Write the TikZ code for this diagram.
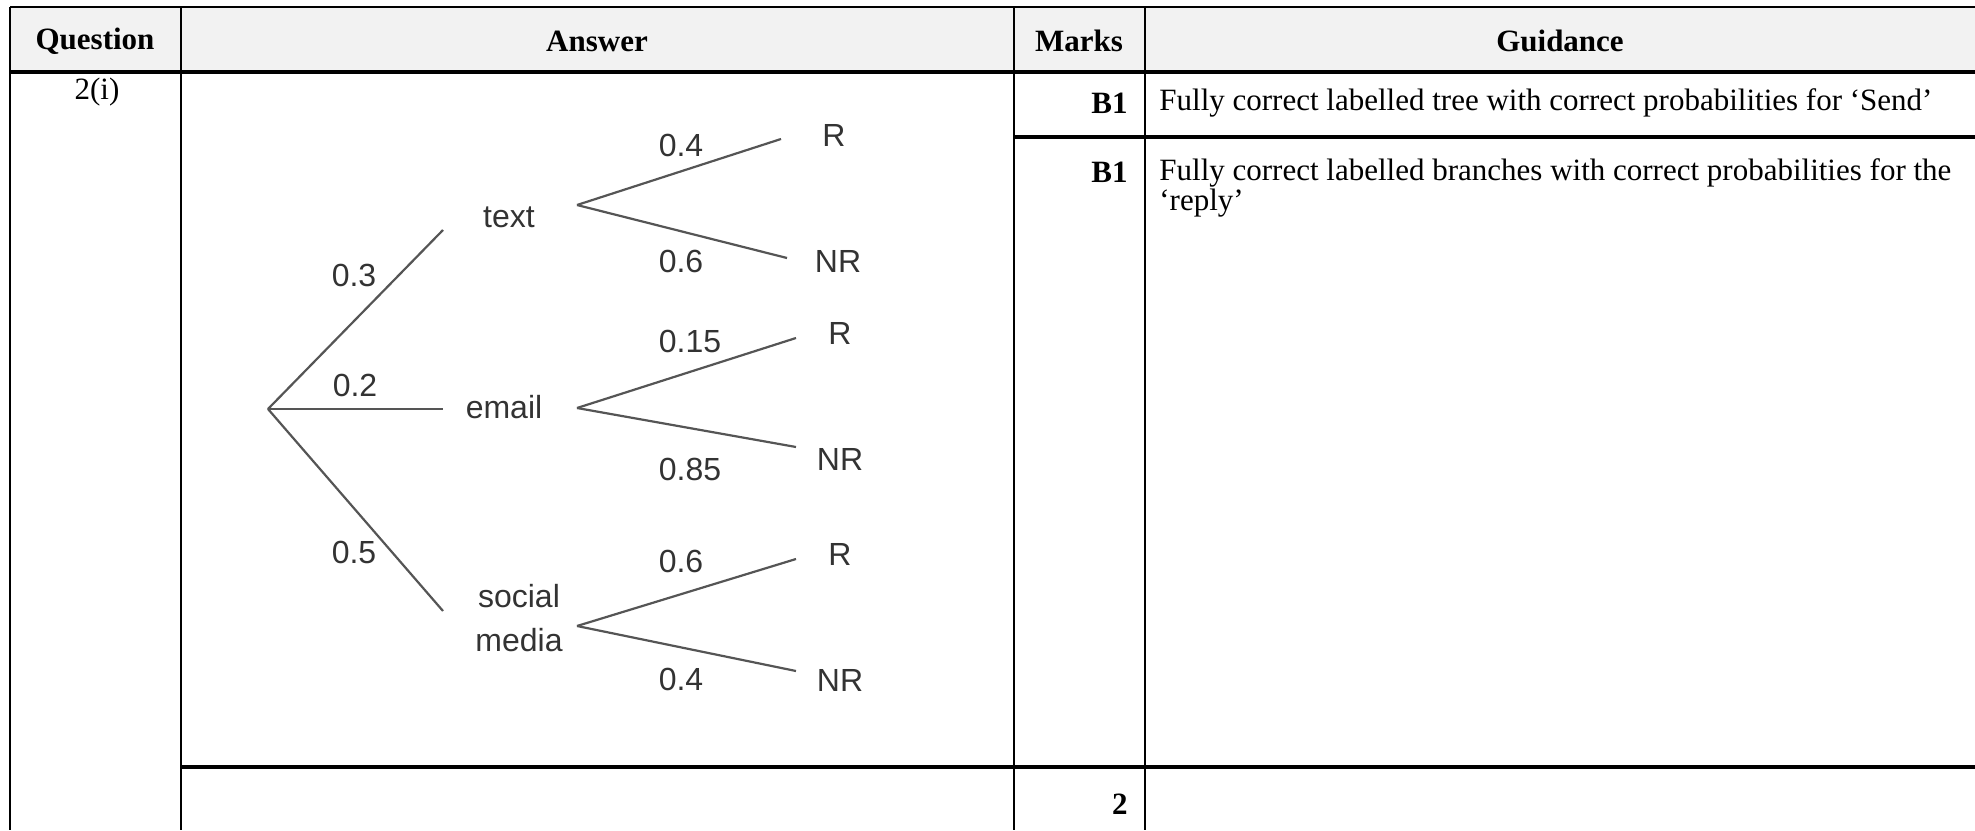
\documentclass[tikz,border=0pt]{standalone}
\usepackage{fontspec}
\setmainfont{Liberation Serif}
\newfontfamily\treefont{Liberation Sans}
\definecolor{headgray}{HTML}{F2F2F2}
\definecolor{treetext}{HTML}{333333}
\definecolor{treeline}{HTML}{555555}
\begin{document}
\begin{tikzpicture}[x=0.5pt,y=-0.5pt,
  tabtext/.style={font=\fontsize{15.5}{18}\selectfont, inner sep=0pt},
  headtext/.style={font=\fontsize{15.5}{18}\selectfont\bfseries, inner sep=0pt},
  treelabel/.style={font=\treefont\fontsize{16}{19}\selectfont, text=treetext, inner sep=0pt, align=center},
  branch/.style={draw=treeline, line width=1.1pt},
  thinrule/.style={draw=black, line width=0.75pt},
  heavyrule/.style={draw=black, line width=1.8pt}]
\useasboundingbox (0,0) rectangle (1975,830);
% header background
\fill[headgray] (10,7) rectangle (1975,72);
% rules
\draw[thinrule] (10,7) -- (1975,7);
\draw[thinrule] (10,7) -- (10,830);
\draw[thinrule] (181,7) -- (181,830);
\draw[thinrule] (1014,7) -- (1014,830);
\draw[thinrule] (1145,7) -- (1145,830);
\draw[heavyrule] (10,72) -- (1975,72);
\draw[heavyrule] (1014,137) -- (1975,137);
\draw[heavyrule] (181,767) -- (1975,767);
% header texts
\node[headtext] (hq) at (95,41) {Question};
\node[headtext] (ha) at (597,41) {Answer};
\node[headtext] (hm) at (1079,41) {Marks};
\node[headtext] (hg) at (1560,41) {Guidance};
% body texts
\node[tabtext] (qn) at (97,92) {2(i)};
\node[headtext, anchor=east] (bone) at (1128,103) {B1};
\node[tabtext, anchor=west] (gone) at (1159,103) {Fully correct labelled tree with correct probabilities for ‘Send’};
\node[headtext, anchor=east] (btwo) at (1128,172) {B1};
\node[tabtext, anchor=north west, align=left, font=\fontsize{15.5}{14}\selectfont] (gtwo) at (1159,158)
  {Fully correct labelled branches with correct probabilities for the\\‘reply’};
\node[headtext, anchor=east] (total) at (1128,804) {2};
% tree
\coordinate (root) at (268,409);
\coordinate (etext) at (443,230);
\coordinate (eemail) at (443,409);
\coordinate (esocial) at (443,611);
\draw[branch] (root) -- (etext);
\draw[branch] (root) -- (eemail);
\draw[branch] (root) -- (esocial);
\node[treelabel] (p03) at (354,275) {0.3};
\node[treelabel] (p02) at (355,385) {0.2};
\node[treelabel] (p05) at (354,552) {0.5};
\node[treelabel] (ntext) at (509,217) {text};
\node[treelabel] (nemail) at (504,407) {email};
\node[treelabel] (nsocial) at (519,618) {social\\[3pt]media};
% text fork
\coordinate (ft) at (577,205);
\coordinate (ftr) at (781,139);
\coordinate (ftn) at (787,258);
\draw[branch] (ft) -- (ftr);
\draw[branch] (ft) -- (ftn);
\node[treelabel] (pt1) at (681,145) {0.4};
\node[treelabel] (pt2) at (681,261) {0.6};
\node[treelabel] (rt) at (834,135) {R};
\node[treelabel] (nrt) at (838,261) {NR};
% email fork
\coordinate (fe) at (577,408);
\coordinate (fer) at (796,338);
\coordinate (fen) at (796,447);
\draw[branch] (fe) -- (fer);
\draw[branch] (fe) -- (fen);
\node[treelabel] (pe1) at (690,341) {0.15};
\node[treelabel] (pe2) at (690,469) {0.85};
\node[treelabel] (re) at (840,333) {R};
\node[treelabel] (nre) at (840,459) {NR};
% social fork
\coordinate (fs) at (577,626);
\coordinate (fsr) at (796,559);
\coordinate (fsn) at (796,671);
\draw[branch] (fs) -- (fsr);
\draw[branch] (fs) -- (fsn);
\node[treelabel] (ps1) at (681,561) {0.6};
\node[treelabel] (ps2) at (681,679) {0.4};
\node[treelabel] (rs) at (840,554) {R};
\node[treelabel] (nrs) at (840,680) {NR};
\end{tikzpicture}
\end{document}
